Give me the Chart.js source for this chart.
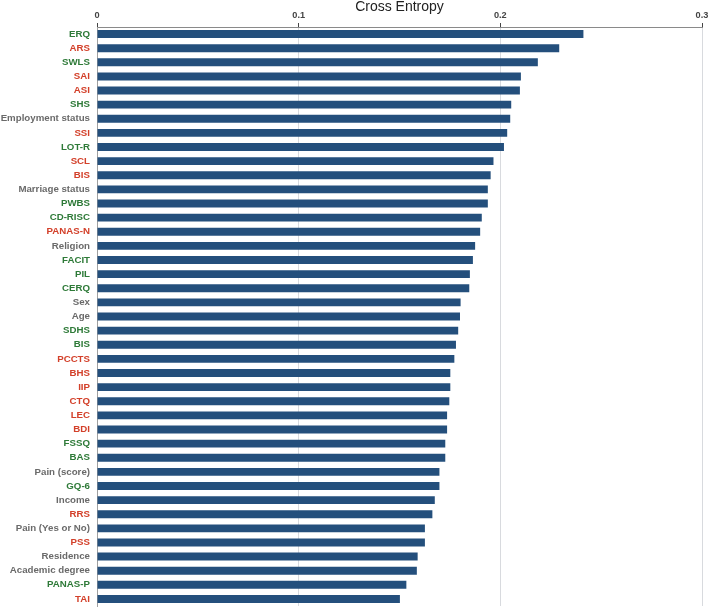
<!DOCTYPE html>
<html>
<head>
<meta charset="utf-8">
<script src="https://cdn.jsdelivr.net/npm/chart.js@4"></script>
<style>
  html, body { margin: 0; padding: 0; background: #fff; }
  #wrap { width: 708px; height: 608px; }
</style>
</head>
<body>
<div id="wrap"><canvas id="ceChart"></canvas></div>
<script>
// Variables, sorted by cross entropy
const labels = [
    'ERQ', 'ARS', 'SWLS', 'SAI', 'ASI', 'SHS', 'Employment status', 'SSI', 'LOT-R', 'SCL',
    'BIS', 'Marriage status', 'PWBS', 'CD-RISC', 'PANAS-N', 'Religion', 'FACIT', 'PIL', 'CERQ', 'Sex',
    'Age', 'SDHS', 'BIS', 'PCCTS', 'BHS', 'IIP', 'CTQ', 'LEC', 'BDI', 'FSSQ',
    'BAS', 'Pain (score)', 'GQ-6', 'Income', 'RRS', 'Pain (Yes or No)', 'PSS', 'Residence', 'Academic degree', 'PANAS-P',
    'TAI'
];

// g = positive scale (green), r = negative scale (red), d = demographic (grey)
const groups = [
    'g', 'r', 'g', 'r', 'r', 'g', 'd', 'r', 'g', 'r',
    'r', 'd', 'g', 'g', 'r', 'd', 'g', 'g', 'g', 'd',
    'd', 'g', 'g', 'r', 'r', 'r', 'r', 'r', 'r', 'g',
    'g', 'd', 'g', 'd', 'r', 'd', 'r', 'd', 'd', 'g',
    'r'
];

const crossEntropy = [
    0.2412, 0.2292, 0.2186, 0.2102, 0.2097, 0.2054, 0.2049, 0.2034, 0.2018, 0.1966,
    0.1952, 0.1938, 0.1938, 0.1908, 0.1900, 0.1875, 0.1864, 0.1849, 0.1846, 0.1803,
    0.1800, 0.1791, 0.1780, 0.1772, 0.1752, 0.1752, 0.1747, 0.1736, 0.1736, 0.1727,
    0.1727, 0.1698, 0.1698, 0.1675, 0.1663, 0.1626, 0.1626, 0.1590, 0.1586, 0.1534,
    0.1502
];

const xTicks = [0, 0.1, 0.2, 0.3];

const groupColors = { g: '#2e7a38', r: '#d3402a', d: '#6a6a6a' };

new Chart(document.getElementById('ceChart'), {
    type: 'bar',
    data: {
        labels: labels,
        datasets: [{
            label: 'Cross Entropy',
            data: crossEntropy,
            backgroundColor: '#244f7c',
            borderWidth: 0,
            barPercentage: 0.56,
            categoryPercentage: 1.0
        }]
    },
    options: {
        indexAxis: 'y',
        responsive: true,
        maintainAspectRatio: false,
        animation: false,
        layout: {
            padding: { left: 0, right: 6, top: 0, bottom: 2 }
        },
        plugins: {
            legend: { display: false },
            tooltip: { enabled: false }
        },
        scales: {
            x: {
                position: 'top',
                min: 0,
                max: 0.3,
                z: 1,
                afterBuildTicks: function(scale) {
                    scale.ticks = xTicks.map(v => ({ value: v }));
                },
                afterFit: function(scale) {
                    scale.height = 27;
                    scale.paddingLeft = 0;
                    scale.paddingRight = 0;
                },
                grid: {
                    color: 'rgba(195, 198, 205, 0.65)',
                    tickColor: '#444',
                    tickLength: 4,
                    lineWidth: 1
                },
                border: {
                    display: true,
                    color: '#8a8a8a',
                    width: 1
                },
                ticks: {
                    padding: 2,
                    color: '#444',
                    font: { family: 'Liberation Sans, Arial', size: 9.2, weight: 'bold' },
                    callback: function(value) {
                        return value === 0 ? '0' : String(Math.round(value * 10) / 10);
                    }
                },
                title: {
                    display: true,
                    text: 'Cross Entropy',
                    color: '#222',
                    font: { family: 'Liberation Sans, Arial', size: 14 },
                    padding: { top: -1, bottom: 0 }
                }
            },
            y: {
                afterFit: function(scale) {
                    scale.width = 97;
                    scale.paddingTop = 0;
                    scale.paddingBottom = 0;
                },
                grid: { display: false, drawTicks: false, tickLength: 0 },
                border: {
                    display: true,
                    color: '#a0a0a0',
                    width: 1
                },
                ticks: {
                    padding: 7,
                    autoSkip: false,
                    font: { family: 'Liberation Sans, Arial', size: 9.7, weight: 'bold' },
                    color: function(ctx) {
                        return groupColors[groups[ctx.index]];
                    }
                }
            }
        }
    }
});
</script>
</body>
</html>
